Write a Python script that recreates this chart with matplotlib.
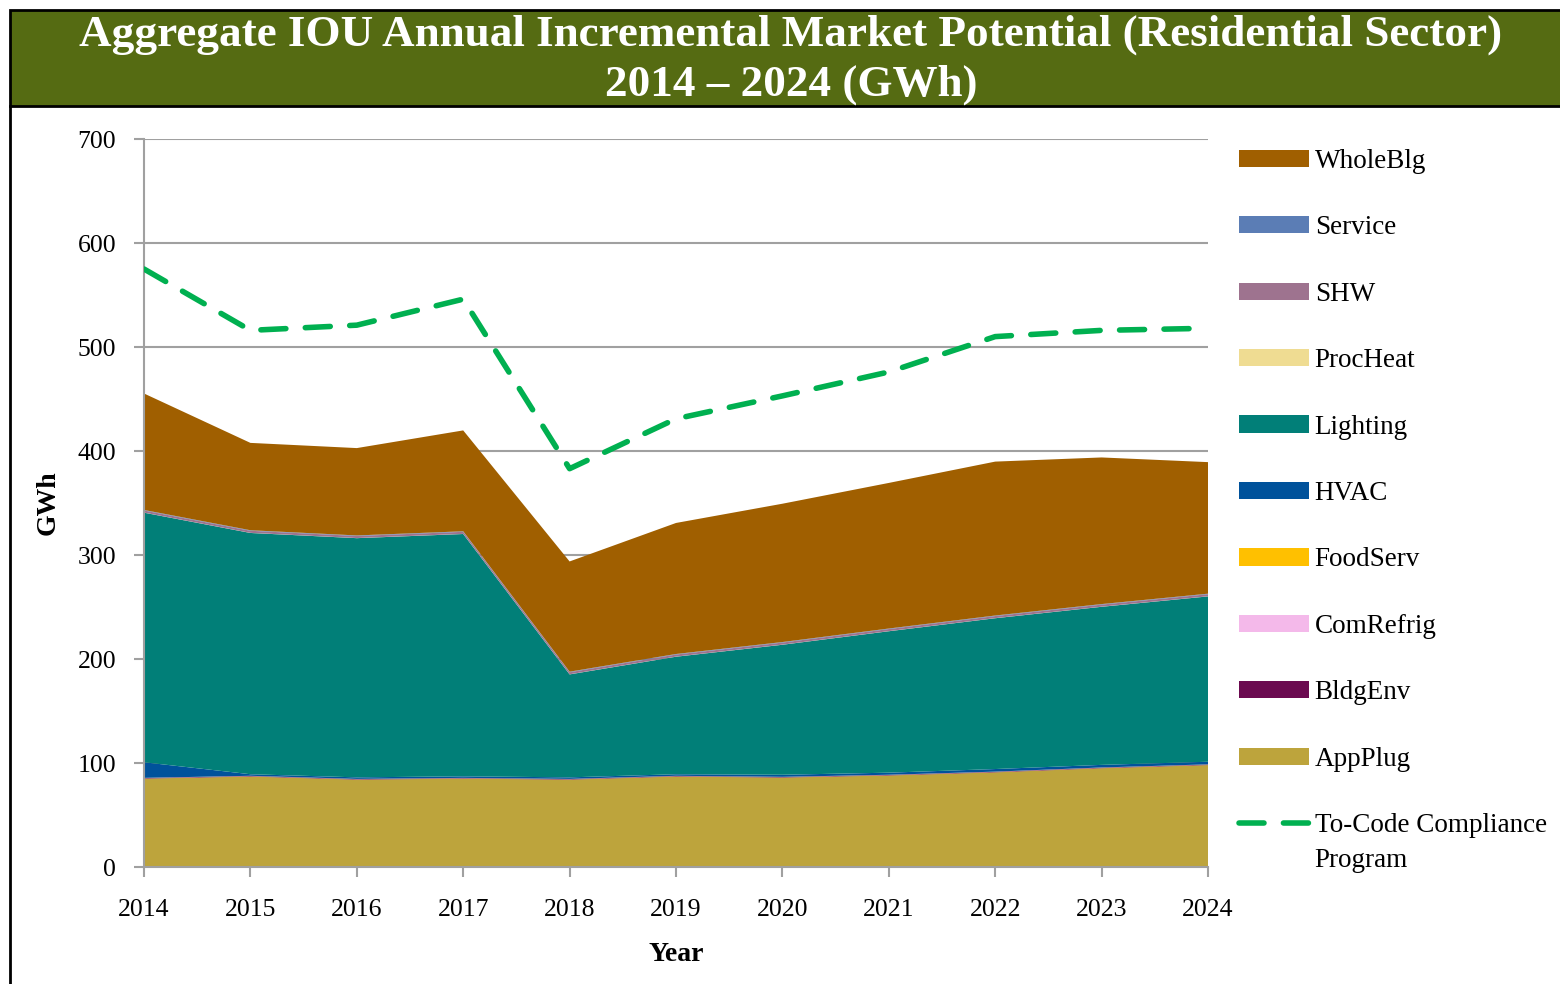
import matplotlib
matplotlib.use("Agg")
import matplotlib.pyplot as plt
from matplotlib.patches import Rectangle
from matplotlib.lines import Line2D

plt.rcParams["font.family"] = ["Liberation Serif", "DejaVu Serif"]

years = [2014, 2015, 2016, 2017, 2018, 2019, 2020, 2021, 2022, 2023, 2024]

# stacked end uses, bottom to top (GWh)
app_plug = [85, 87, 84, 85, 84, 87, 86, 88, 91, 95, 98]
bldg_env = [0.5, 0.5, 0.5, 0.5, 0.5, 0.5, 0.5, 0.5, 0.5, 0.5, 0.5]
com_refrig = [0.1, 0.1, 0.1, 0.1, 0.1, 0.1, 0.1, 0.1, 0.1, 0.1, 0.1]
food_serv = [0.1, 0.1, 0.1, 0.1, 0.1, 0.1, 0.1, 0.1, 0.1, 0.1, 0.1]
hvac = [15, 1.5, 1.5, 1.5, 1.5, 1.5, 2, 2, 2.5, 2.5, 2.5]
lighting = [240, 232, 230, 233, 99, 113, 125, 136, 145, 152, 159]
proc_heat = [0.1, 0.1, 0.1, 0.1, 0.1, 0.1, 0.1, 0.1, 0.1, 0.1, 0.1]
shw = [2, 2, 2, 2, 2, 2, 2, 2, 2, 2, 2]
service = [0.5, 0.5, 0.5, 0.5, 0.5, 0.5, 0.5, 0.5, 0.5, 0.5, 0.5]
whole_blg = [112, 84, 84, 97, 106, 126, 133, 140, 148, 141, 126.5]

to_code = [575, 516, 521, 546, 383, 431, 453, 476, 510, 516, 518]

labels = ["AppPlug", "BldgEnv", "ComRefrig", "FoodServ", "HVAC",
          "Lighting", "ProcHeat", "SHW", "Service", "WholeBlg"]
colors = ["#BDA43C", "#6B0A50", "#F4B9EA", "#FFC000", "#00529B",
          "#017F78", "#EFDC92", "#9E738F", "#5B7DB5", "#A05F00"]

fig = plt.figure(figsize=(15.6, 9.84), dpi=100)

# title banner
fig.patches.append(Rectangle((10 / 1560, 1 - 106 / 984), 1.0, 96 / 984,
                             transform=fig.transFigure, facecolor="#556B12",
                             edgecolor="black", linewidth=2, zorder=0))
fig.add_artist(Line2D([10 / 1560, 10 / 1560], [0, 1 - 106 / 984],
                      transform=fig.transFigure, color="black", linewidth=2))
fig.text(0.507, 1 - 35 / 984, "Aggregate IOU Annual Incremental Market Potential (Residential Sector)",
         ha="center", va="center", color="white", fontsize=32.5, fontweight="bold")
fig.text(0.507, 1 - 85 / 984, "2014 \u2013 2024 (GWh)",
         ha="center", va="center", color="white", fontsize=32.5, fontweight="bold")

ax = fig.add_axes([144 / 1560, 1 - 867 / 984, 1064 / 1560, 728 / 984])
stacks = ax.stackplot(years, app_plug, bldg_env, com_refrig, food_serv, hvac,
                      lighting, proc_heat, shw, service, whole_blg,
                      labels=labels, colors=colors, linewidth=0, zorder=2)
line, = ax.plot(years, to_code, color="#00B050", linewidth=4,
                dashes=(4.5, 3.5), dash_capstyle="round",
                label="To-Code Compliance", zorder=3)

ax.set_xlim(2014, 2024)
ax.set_ylim(0, 700)
ax.set_xticks(years)
ax.set_yticks(range(0, 701, 100))
ax.yaxis.grid(True, color="#A0A0A0", linewidth=1.5, zorder=0)
ax.set_axisbelow(True)
for side in ["top", "right"]:
    ax.spines[side].set_visible(False)
for side in ["left", "bottom"]:
    ax.spines[side].set_color("#A0A0A0")
    ax.spines[side].set_linewidth(1.5)
ax.tick_params(axis="both", colors="#A0A0A0", width=1.5, length=7,
               labelcolor="black", labelsize=18.5)
ax.tick_params(axis="y", pad=13)
ax.tick_params(axis="x", pad=16)

ax.set_xlabel("Year", fontsize=20, fontweight="bold", labelpad=15)
ax.set_ylabel("GWh", fontsize=20, fontweight="bold", labelpad=12)

handles = list(stacks[::-1]) + [line]
names = labels[::-1] + ["To-Code Compliance"]
leg = fig.legend(handles, names, loc="upper left",
                 bbox_to_anchor=(1228 / 1560, 1 - 138 / 984),
                 frameon=False, fontsize=19.5, handlelength=2.6, handleheight=0.6,
                 handletextpad=0.2, labelspacing=1.53, borderaxespad=0)
# second line of the last legend label sits under the first line
fig.canvas.draw()
ax.annotate("Program", xy=(0, 0), xycoords=leg.get_texts()[-1],
            xytext=(0, -21), textcoords="offset points",
            fontsize=19.5, ha="left", va="baseline", annotation_clip=False)

fig.savefig("out.png", dpi=100)
